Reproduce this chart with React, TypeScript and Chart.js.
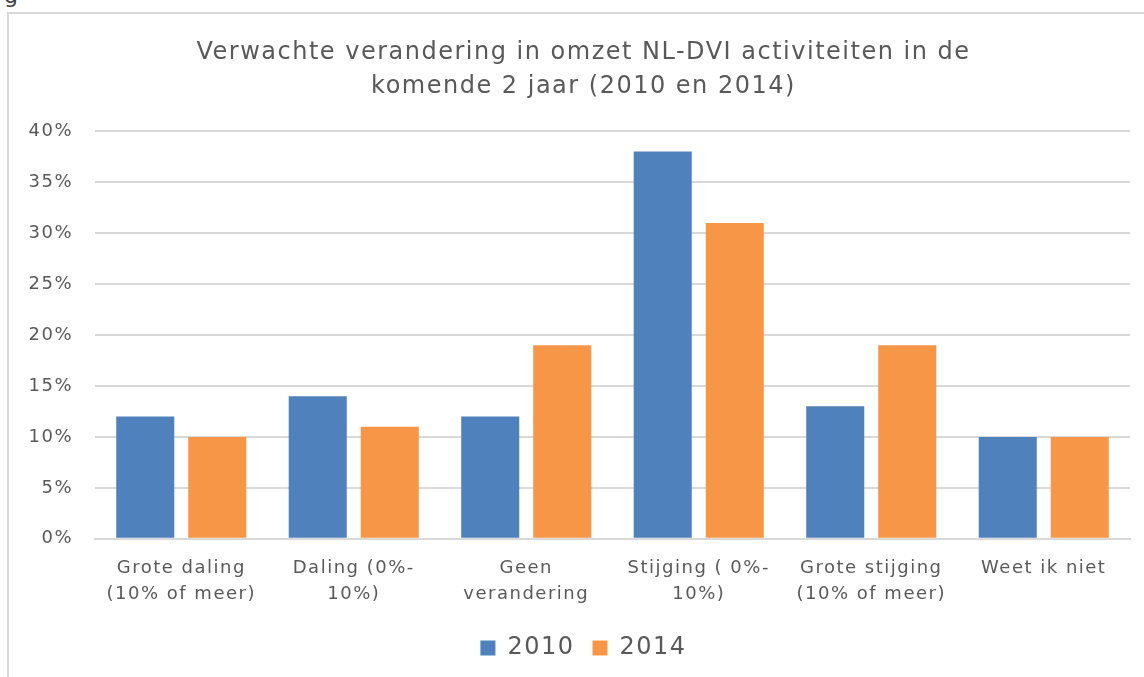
import React, { useEffect, useRef } from "react";
import { Chart, registerables } from "chart.js";

Chart.register(...registerables);

const categories: string[][] = [
  ["Grote daling", "(10% of meer)"],
  ["Daling (0%-", "10%)"],
  ["Geen", "verandering"],
  ["Stijging ( 0%-", "10%)"],
  ["Grote stijging", "(10% of meer)"],
  ["Weet ik niet"],
];
const values2010: number[] = [12, 14, 12, 38, 13, 10];
const values2014: number[] = [10, 11, 19, 31, 19, 10];
const seriesNames: string[] = ["2010", "2014"];
const titleLines: string[] = [
  "Verwachte verandering in omzet NL-DVI activiteiten in de",
  "komende 2 jaar (2010 en 2014)",
];
const yTicks: number[] = [0, 5, 10, 15, 20, 25, 30, 35, 40];

const FONT = "'DejaVu Sans', sans-serif";
const TEXT = "#595959";

const spacingPlugin = {
  id: "spacing",
  beforeUpdate(chart: any) {
    chart.ctx.letterSpacing = "1.5px";
  },
  beforeDraw(chart: any) {
    chart.ctx.letterSpacing = "1.5px";
  },
};

export default function App() {
  const ref = useRef<HTMLCanvasElement | null>(null);

  useEffect(() => {
    document.body.style.overflow = "hidden";
    const canvas = ref.current!;
    const chart = new Chart(canvas, {
      type: "bar",
      data: {
        labels: categories,
        datasets: [
          {
            label: seriesNames[0],
            data: values2010,
            backgroundColor: "#4F81BD",
            borderWidth: 0,
            categoryPercentage: 0.835,
            barPercentage: 0.806,
          },
          {
            label: seriesNames[1],
            data: values2014,
            backgroundColor: "#F79646",
            borderWidth: 0,
            categoryPercentage: 0.835,
            barPercentage: 0.806,
          },
        ],
      },
      plugins: [spacingPlugin],
      options: {
        responsive: false,
        animation: false,
        layout: { padding: { left: 28, right: 14, top: 0, bottom: 7 } },
        plugins: {
          title: {
            display: true,
            text: titleLines,
            color: TEXT,
            font: { family: FONT, size: 24, weight: "normal", lineHeight: 1.4 },
            padding: { top: 22, bottom: 28 },
          },
          legend: {
            position: "bottom",
            labels: {
              color: TEXT,
              font: { family: FONT, size: 24 },
              boxWidth: 15,
              boxHeight: 15,
              padding: 18,
            },
          },
          tooltip: { enabled: false },
        },
        scales: {
          x: {
            grid: { display: false, drawTicks: false },
            border: { color: "#d9d9d9", width: 2 },
            afterFit: (s: any) => {
              s.height = s.height - 5;
            },
            ticks: {
              color: TEXT,
              font: { family: FONT, size: 18, lineHeight: 1.45 },
              padding: 16,
              maxRotation: 0,
              autoSkip: false,
            },
          },
          y: {
            min: 0,
            max: 40,
            afterBuildTicks: (s: any) => {
              s.ticks = yTicks.map((v) => ({ value: v }));
            },
            afterFit: (s: any) => {
              s.width = 58;
              s._computeLabelArea = () => undefined;
            },
            grid: { color: "#d9d9d9", lineWidth: 2, drawTicks: false },
            border: { display: false },
            ticks: {
              color: TEXT,
              font: { family: FONT, size: 18 },
              padding: 22,
              callback: (v: any) => v + "%",
            },
          },
        },
      },
    });
    return () => chart.destroy();
  }, []);

  return (
    <div
      style={{
        position: "fixed",
        left: 0,
        top: 0,
        width: 1144,
        height: 677,
        overflow: "hidden",
        background: "#fff",
      }}
    >
      <div
        style={{
          position: "absolute",
          left: 4,
          top: -17,
          fontFamily: FONT,
          fontSize: 22,
          color: "#404040",
        }}
      >
        g
      </div>
      <div
        style={{
          position: "absolute",
          left: 7,
          top: 12,
          width: 1160,
          height: 700,
          border: "2px solid #d9d9d9",
          boxSizing: "border-box",
        }}
      >
        <canvas ref={ref} width={1135} height={663} style={{ display: "block" }} />
      </div>
    </div>
  );
}
